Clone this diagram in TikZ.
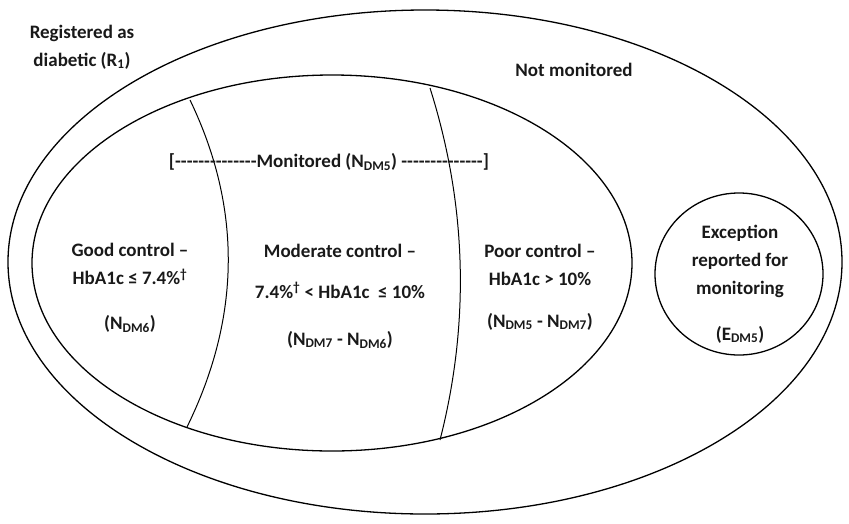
\documentclass[tikz,border=0pt]{standalone}
\usepackage{fontspec}
\setmainfont{Carlito}
\newcommand\dashrun[1]{\foreach\d in {1,...,#1}{-}}

\begin{document}
\begin{tikzpicture}[x=1pt,y=-1pt,
		txt/.style={font=\fontsize{19}{28}\selectfont\bfseries,text=black!90,align=center,inner sep=0pt},
		ring/.style={line width=1.3pt},
		divide/.style={line width=1pt}]
		\useasboundingbox (0,0) rectangle (849,523);

		% sets
		\draw[ring] (425,262) ellipse (417 and 252);
		\draw[ring] (332,263) ellipse (300 and 188);
		\draw[ring] (739,274) ellipse (84 and 81);

		% HbA1c bands
		\coordinate (gtop) at (190,100);
		\coordinate (gbot) at (187,427);
		\coordinate (ptop) at (430,88);
		\coordinate (pbot) at (440,440);
		\draw[divide] (gtop) .. controls (242,208) and (241,317) .. (gbot);
		\draw[divide] (ptop) .. controls (467,205) and (470,323) .. (pbot);

		\node[txt]	(reg)		at (82,47)	{Registered as\\diabetic (R\textsubscript{1})};
		\node[txt]	(notmon)	at (574,70)	{Not monitored};
		\node[txt]	(mon)		at (329,162)	{[\dashrun{14}Monitored (N\textsubscript{DM5}) \dashrun{14}]};

		\node[txt]	(good)		at (130,288)	{Good control --\\HbA1c ≤ 7.4\%\textsuperscript{\dag}\\[17pt](N\textsubscript{DM6})};
		\node[txt]	(moderate)	at (340,296)	{Moderate control --\\[13pt]7.4\%\textsuperscript{\dag} < HbA1c\ \ ≤ 10\%\\[19pt](N\textsubscript{DM7} - N\textsubscript{DM6})};
		\node[txt]	(poor)		at (540,287)	{Poor control --\\HbA1c > 10\%\\[14pt](N\textsubscript{DM5} - N\textsubscript{DM7})};
		\node[txt]	(except)	at (740,284)	{Exception\\reported for\\monitoring\\[18pt](E\textsubscript{DM5})};
	\end{tikzpicture}
\end{document}
